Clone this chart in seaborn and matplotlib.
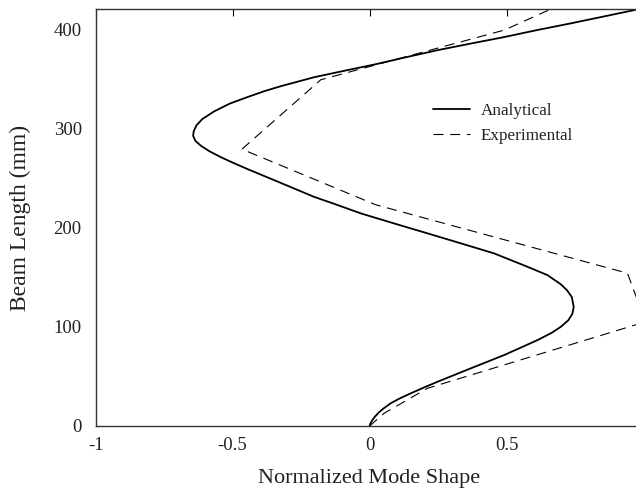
import matplotlib
matplotlib.use("Agg")
import matplotlib.pyplot as plt
import seaborn as sns
import pandas as pd

# Analytical mode shape (x = normalized mode shape, y = beam length in mm)
analytical_x = [0.0, 0.002, 0.008, 0.018, 0.033, 0.050, 0.077, 0.110, 0.150, 0.200,
                0.248, 0.369, 0.491, 0.613, 0.665, 0.698, 0.725, 0.740, 0.745, 0.738,
                0.720, 0.698, 0.649, 0.576, 0.454, 0.333, 0.211, 0.089, -0.032, -0.130,
                -0.203, -0.324, -0.446, -0.500, -0.543, -0.585, -0.616, -0.636, -0.644,
                -0.642, -0.632, -0.610, -0.568, -0.510, -0.446, -0.384, -0.324, -0.203,
                -0.081, 0.020, 0.130, 0.248, 0.370, 0.491, 0.610, 0.734, 0.850, 0.980]
analytical_y = [0.0, 2.0, 5.0, 9.0, 13.5, 17.5, 22.9, 27.8, 32.9, 39.0,
                44.6, 58.1, 71.5, 86.6, 94.0, 100.0, 106.5, 113.0, 120.0, 130.0,
                137.0, 142.8, 152.1, 160.5, 174.0, 184.1, 194.2, 204.2, 214.3, 224.0,
                231.0, 245.0, 259.0, 265.5, 271.0, 277.0, 282.5, 287.5, 292.5,
                297.0, 303.0, 309.5, 317.0, 325.0, 331.5, 337.5, 342.5, 351.5,
                358.7, 364.5, 371.5, 378.8, 385.5, 392.0, 399.0, 405.8, 412.5, 420.0]

# Experimental mode shape
experimental_x = [0.0, 0.053, 0.211, 1.007, 0.941, 0.022, -0.466, -0.178, 0.491, 0.66]
experimental_y = [0.0, 12.8, 38.0, 105.0, 154.0, 223.0, 279.0, 349.0, 399.0, 420.0]

x_ticks = [-1, -0.5, 0, 0.5]
x_tick_labels = ["-1", "-0.5", "0", "0.5"]
y_ticks = [0, 100, 200, 300, 400]

sns.set_theme(style="white")
plt.rcParams["font.family"] = ["Liberation Serif", "DejaVu Serif"]
plt.rcParams["axes.unicode_minus"] = False

fig = plt.figure(figsize=(6.36, 4.91), dpi=100)
ax = fig.add_axes([95.6 / 636, 65 / 491, 548 / 636, (426 - 9.3) / 491])

df_a = pd.DataFrame({"x": analytical_x, "y": analytical_y})
df_e = pd.DataFrame({"x": experimental_x, "y": experimental_y})

sns.lineplot(data=df_a, x="x", y="y", sort=False, estimator=None, ax=ax,
             color="black", linewidth=1.3, label="Analytical")
sns.lineplot(data=df_e, x="x", y="y", sort=False, estimator=None, ax=ax,
             color="black", linewidth=0.8, label="Experimental")
ax.lines[1].set_dashes([9, 6])

ax.set_xlim(-1, 1)
ax.set_ylim(0, 420)
ax.set_xticks(x_ticks)
ax.set_xticklabels(x_tick_labels)
ax.set_yticks(y_ticks)
ax.tick_params(axis="both", direction="in", length=5, width=0.8, labelsize=13.5,
               colors="black", top=True, right=True)
ax.tick_params(axis="x", pad=8, labelcolor="#222222")
ax.tick_params(axis="y", pad=10, labelcolor="#222222")
for s in ax.spines.values():
    s.set_color("#333333")
    s.set_linewidth(1.0)

ax.set_xlabel("Normalized Mode Shape", fontsize=16, color="#222222")
ax.set_ylabel("Beam Length (mm)", fontsize=17, color="#222222")
ax.xaxis.set_label_coords(0.499, -0.103)
ax.yaxis.set_label_coords(-0.118, 0.5)

leg = ax.legend(loc="upper left", bbox_to_anchor=(0.587, 0.813), frameon=False,
                fontsize=12.3, handlelength=2.2, handletextpad=0.6, labelspacing=0.53)
for t in leg.get_texts():
    t.set_color("#222222")

fig.savefig("out.png", dpi=100)
